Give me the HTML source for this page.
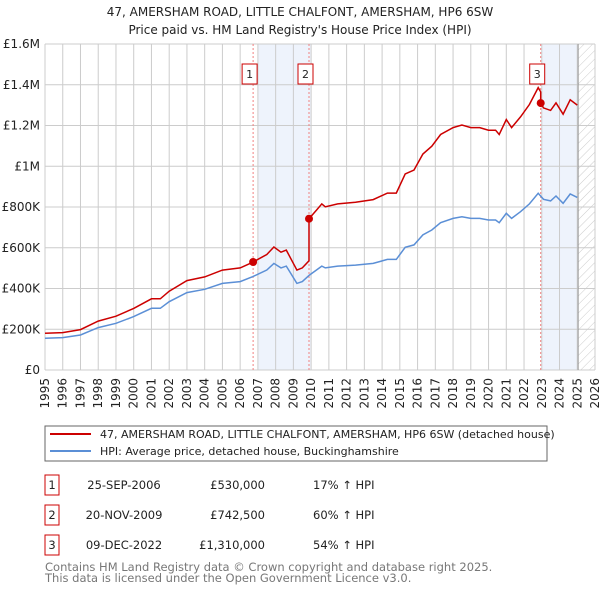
<!DOCTYPE html>
<html><head><meta charset="utf-8"><style>
body{margin:0;background:#fff;font-family:"DejaVu Sans","Liberation Sans",sans-serif;}
svg text{font-family:"DejaVu Sans","Liberation Sans",sans-serif;}
</style></head><body>
<svg id="chart" width="600" height="590" viewBox="0 0 600 590" xmlns="http://www.w3.org/2000/svg">
<defs><pattern id="hatch" width="6" height="6" patternUnits="userSpaceOnUse" patternTransform="rotate(45)"><line x1="0" y1="0" x2="0" y2="6" stroke="#ccc" stroke-width="1"/></pattern></defs>
<text x="300" y="16" text-anchor="middle" font-size="12" fill="#222">47, AMERSHAM ROAD, LITTLE CHALFONT, AMERSHAM, HP6 6SW</text>
<text x="300" y="34" text-anchor="middle" font-size="12" fill="#222">Price paid vs. HM Land Registry's House Price Index (HPI)</text>
<g id="grid"></g><g id="marks"></g><g id="axes"></g>
<rect x="45" y="426" width="502" height="35" fill="#fff" stroke="#666"/>
<line x1="50" y1="434" x2="91" y2="434" stroke="#cc0000" stroke-width="2"/>
<text x="100" y="438" font-size="11" fill="#222">47, AMERSHAM ROAD, LITTLE CHALFONT, AMERSHAM, HP6 6SW (detached house)</text>
<line x1="50" y1="451" x2="91" y2="451" stroke="#5b8fd6" stroke-width="2"/>
<text x="100" y="455" font-size="11" fill="#222">HPI: Average price, detached house, Buckinghamshire</text>
<g id="table"></g>
<text x="45" y="571" font-size="11.5" fill="#777">Contains HM Land Registry data © Crown copyright and database right 2025.</text>
<text x="45" y="582" font-size="11.5" fill="#777">This data is licensed under the Open Government Licence v3.0.</text>
</svg>
<script>
const hpiYears=[1995,1996,1997,1998,1999,2000,2001,2001.5,2002,2003,2004,2005,2006,2006.7,2007.5,2007.9,2008.3,2008.6,2009.2,2009.5,2009.9,2010.3,2010.6,2010.8,2011.5,2012.5,2013.5,2014.3,2014.8,2015.3,2015.8,2016.3,2016.8,2017.3,2018,2018.5,2019,2019.5,2020,2020.4,2020.6,2021,2021.3,2021.8,2022.3,2022.8,2023.1,2023.5,2023.8,2024.2,2024.6,2025];
const hpiValues=[156,159,172,208,229,262,303,303,335,380,396,425,434,458,491,523,501,510,425,434,466,491,510,501,510,515,523,543,543,602,614,663,687,723,744,752,744,744,736,736,723,769,744,777,815,867,838,830,854,818,864,847];
const saleYears=[2006.73,2009.88,2022.94];
const salePrices=[530,742.5,1310];
const saleLabels=["1","2","3"];
const saleDates=["25-SEP-2006","20-NOV-2009","09-DEC-2022"];
const salePriceText=["£530,000","£742,500","£1,310,000"];
const saleHpiText=["17% ↑ HPI","60% ↑ HPI","54% ↑ HPI"];
const yTicks=[0,200,400,600,800,1000,1200,1400,1600];
const yTickLabels=["£0","£200K","£400K","£600K","£800K","£1M","£1.2M","£1.4M","£1.6M"];
const xTicks=[1995,1996,1997,1998,1999,2000,2001,2002,2003,2004,2005,2006,2007,2008,2009,2010,2011,2012,2013,2014,2015,2016,2017,2018,2019,2020,2021,2022,2023,2024,2025,2026];
const shadeRanges=[[2007.0,2010.0],[2023.0,2025.05]];
const dataEnd=2025.05;

const NS="http://www.w3.org/2000/svg";
const X0=45,X1=595,Y0=370,Y1=44;
const xs=y=>X0+(y-1995)/(2026-1995)*(X1-X0);
const ys=v=>Y0-v/1600*(Y0-Y1);
function mk(tag,attrs,parent){const e=document.createElementNS(NS,tag);for(const k in attrs)e.setAttribute(k,attrs[k]);parent.appendChild(e);return e;}
const grid=document.getElementById('grid'),marks=document.getElementById('marks'),axes=document.getElementById('axes'),table=document.getElementById('table');
function hpiAt(t){for(let i=0;i<hpiYears.length-1;i++){if(t<=hpiYears[i+1]){const f=(t-hpiYears[i])/(hpiYears[i+1]-hpiYears[i]);return hpiValues[i]+f*(hpiValues[i+1]-hpiValues[i]);}}return hpiValues[hpiValues.length-1];}
shadeRanges.forEach((r,i)=>{const e=mk('rect',{x:xs(r[0]),y:Y1,width:xs(r[1])-xs(r[0]),height:Y0-Y1,fill:'#eef3fc'},grid);

});
const h=mk('rect',{x:xs(dataEnd),y:Y1,width:X1-xs(dataEnd),height:Y0-Y1,fill:'url(#hatch)'},grid);


xTicks.forEach(t=>{const l=mk('line',{x1:xs(t),x2:xs(t),y1:Y1,y2:Y0,stroke:'#ccc','stroke-width':1},grid);


const tx=mk('text',{x:0,y:0,'font-size':12,fill:'#222','text-anchor':'end',transform:`translate(${xs(t)+4},378) rotate(-90)`},axes);tx.textContent=t;

});
yTicks.forEach((v,i)=>{const l=mk('line',{x1:X0,x2:X1,y1:ys(v),y2:ys(v),stroke:'#ccc','stroke-width':1},grid);


const tx=mk('text',{x:40,y:ys(v)+4,'font-size':12,fill:'#222','text-anchor':'end'},axes);tx.textContent=yTickLabels[i];

});
const el=mk('line',{x1:xs(dataEnd),x2:xs(dataEnd),y1:Y1,y2:Y0,stroke:'#999','stroke-width':1},grid);


saleYears.forEach((s,i)=>{const l=mk('line',{x1:xs(s),x2:xs(s),y1:Y1,y2:Y0,stroke:'#f08080','stroke-width':1,'stroke-dasharray':'2,2'},marks);


const bx=xs(s)-11;const r=mk('rect',{x:bx,y:64,width:15,height:20,fill:'#fff',stroke:'#cc0000'},marks);


const t=mk('text',{x:bx+7.5,y:78,'font-size':11,'text-anchor':'middle',fill:'#222'},marks);t.textContent=saleLabels[i];

});
const hp=hpiYears.map((y,i)=>xs(y).toFixed(1)+','+ys(hpiValues[i]).toFixed(1)).join(' ');
const hl=mk('polyline',{points:hp,fill:'none',stroke:'#5b8fd6','stroke-width':1.5},marks);


function factorAt(t){let k=0;for(let i=0;i<saleYears.length;i++)if(t>=saleYears[i])k=i;return salePrices[k]/hpiAt(saleYears[k]);}
const pts=[];const times=hpiYears.slice();saleYears.forEach(s=>{times.push(s-0.001);times.push(s);});times.sort((a,b)=>a-b);
times.forEach(t=>pts.push(xs(t).toFixed(1)+','+ys(hpiAt(t)*factorAt(t)).toFixed(1)));
const pl=mk('polyline',{points:pts.join(' '),fill:'none',stroke:'#cc0000','stroke-width':1.5},marks);


saleYears.forEach((s,i)=>{const c=mk('circle',{cx:xs(s),cy:ys(salePrices[i]),r:4,fill:'#cc0000'},marks);

});
saleYears.forEach((s,i)=>{const cy=485+i*30;
const r=mk('rect',{x:45,y:cy-10,width:14,height:20,fill:'#fff',stroke:'#cc0000'},table);


const cells=[[52,'middle',saleLabels[i],'table-number'],[124,'middle',saleDates[i],'table-date'],[265,'end',salePriceText[i],'table-price'],[313,'start',saleHpiText[i],'table-hpi-change']];
cells.forEach(c=>{const t=mk('text',{x:c[0],y:cy+4,'font-size':11.5,'text-anchor':c[1],fill:'#222'},table);t.textContent=c[2];

});});
</script>
</body></html>
